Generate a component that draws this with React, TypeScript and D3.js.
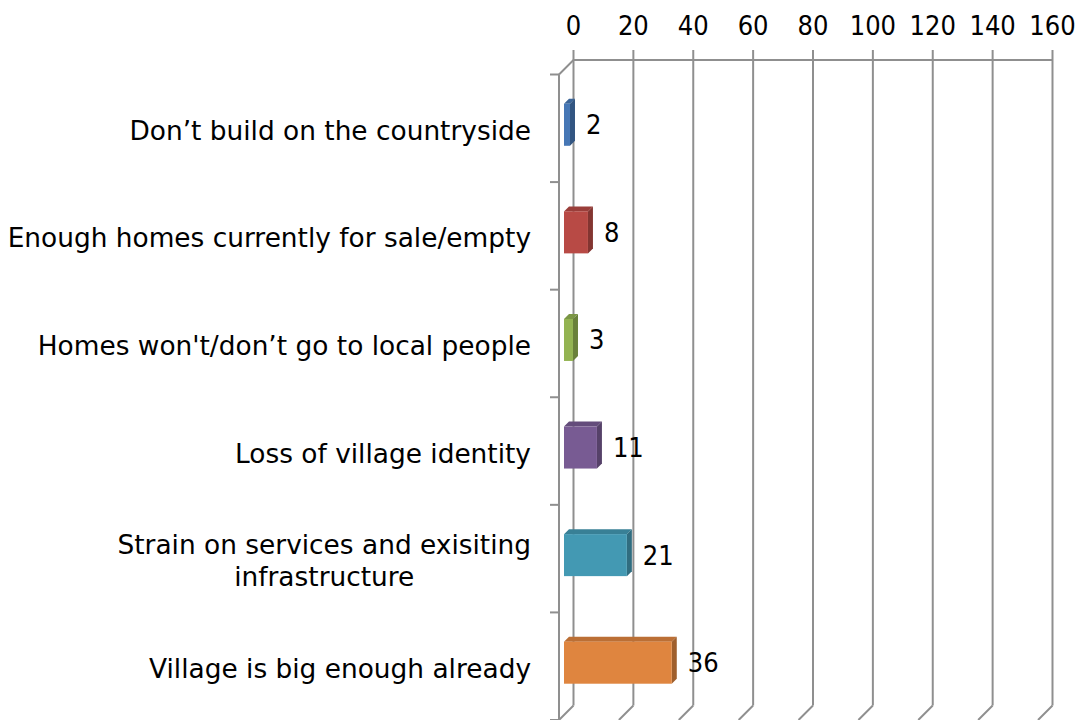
import React, { useEffect, useRef } from "react";
import * as d3 from "d3";

const categories: string[][] = [
  ["Don’t build on the countryside"],
  ["Enough homes currently for sale/empty"],
  ["Homes won't/don’t go to local people"],
  ["Loss of village identity"],
  ["Strain on services and exisiting", "infrastructure"],
  ["Village is big enough already"],
];
const values: number[] = [2, 8, 3, 11, 21, 36];
const ticks: number[] = [0, 20, 40, 60, 80, 100, 120, 140, 160];
const frontColors = ["#4677B5", "#B84A45", "#93B352", "#785B93", "#4399B3", "#DF853F"];

const FONT_NUM = "'DejaVu Sans Condensed', 'DejaVu Sans', sans-serif";
const FONT = "'DejaVu Sans', sans-serif";

export default function App() {
  const ref = useRef<SVGSVGElement>(null);
  useEffect(() => {
    const svg = d3.select(ref.current);
    svg.selectAll("*").remove();
    const H = 720;
    const depth = 14.5;
    const top = 60, bottomBack = 705.5;
    const x = d3.scaleLinear().domain([0, 160]).range([573.5, 1052.5]);
    const yBack = d3.scaleBand<number>().domain(d3.range(categories.length)).range([top, bottomBack]);
    const grid = "#8f8f8f";
    const sw = 2;
    const g = svg.append("g");

    ticks.forEach((t) => {
      g.append("line").attr("x1", x(t)).attr("x2", x(t)).attr("y1", top - 10).attr("y2", bottomBack)
        .attr("stroke", grid).attr("stroke-width", sw);
      g.append("line").attr("x1", x(t)).attr("y1", bottomBack).attr("x2", x(t) - depth).attr("y2", bottomBack + depth)
        .attr("stroke", grid).attr("stroke-width", sw);
      g.append("text").attr("x", x(t)).attr("y", 25).attr("text-anchor", "middle").attr("dominant-baseline", "central")
        .attr("font-family", FONT_NUM).attr("font-size", 27).attr("fill", "#000").text(String(t));
    });
    g.append("line").attr("x1", x(0)).attr("x2", x(160)).attr("y1", top).attr("y2", top).attr("stroke", grid).attr("stroke-width", sw);
    g.append("line").attr("x1", x(0)).attr("y1", top).attr("x2", x(0) - depth).attr("y2", top + depth).attr("stroke", grid).attr("stroke-width", sw);
    g.append("line").attr("x1", x(0) - depth).attr("y1", top + depth).attr("x2", x(0) - depth).attr("y2", H + 5).attr("stroke", grid).attr("stroke-width", sw);
    d3.range(categories.length + 1).forEach((i) => {
      const yy = top + depth + i * yBack.step();
      g.append("line").attr("x1", x(0) - depth - 9).attr("x2", x(0) - depth).attr("y1", yy).attr("y2", yy).attr("stroke", grid).attr("stroke-width", sw);
    });

    const dFront = 9.5, dBack = 4.5;
    const barH = 42;
    values.forEach((v, i) => {
      const c = d3.color(frontColors[i])!;
      const topC = c.darker(0.5).formatHex();
      const sideC = c.darker(0.95).formatHex();
      const cy = (yBack(i) as number) + yBack.bandwidth() / 2 + dFront + 1.5;
      const fx0 = x(0) - dFront, fx1 = x(v) - dFront;
      const fy0 = cy - barH / 2, fy1 = cy + barH / 2;
      const off = dFront - dBack;
      g.append("path").attr("d", `M${fx0},${fy0} L${fx0 + off},${fy0 - off} L${fx1 + off},${fy0 - off} L${fx1},${fy0} Z`).attr("fill", topC);
      g.append("path").attr("d", `M${fx1},${fy0} L${fx1 + off},${fy0 - off} L${fx1 + off},${fy1 - off} L${fx1},${fy1} Z`).attr("fill", sideC);
      g.append("rect").attr("x", fx0).attr("y", fy0).attr("width", fx1 - fx0).attr("height", barH).attr("fill", c.formatHex());
      g.append("text").attr("x", fx1 + 16).attr("y", cy).attr("dominant-baseline", "central")
        .attr("font-family", FONT_NUM).attr("font-size", 27).attr("fill", "#000").text(String(v));
    });

    categories.forEach((lines, i) => {
      const cy = top + depth + (i + 0.5) * yBack.step() + 2;
      const t = g.append("text").attr("font-family", FONT).attr("font-size", 26.4).attr("fill", "#000");
      const lh = 32;
      const spans = lines.map((ln, k) => t.append("tspan").attr("y", cy + (k - (lines.length - 1) / 2) * lh).attr("dominant-baseline", "central").text(ln));
      let maxW = 0;
      spans.forEach((s) => { maxW = Math.max(maxW, (s.node() as SVGTSpanElement).getComputedTextLength()); });
      const rightX = 531;
      t.attr("text-anchor", "middle");
      spans.forEach((s) => s.attr("x", rightX - maxW / 2));
    });
  }, []);
  return (
    <svg ref={ref} width={1089} height={720} style={{ position: "absolute", left: 0, top: 0, background: "#fff" }} />
  );
}
